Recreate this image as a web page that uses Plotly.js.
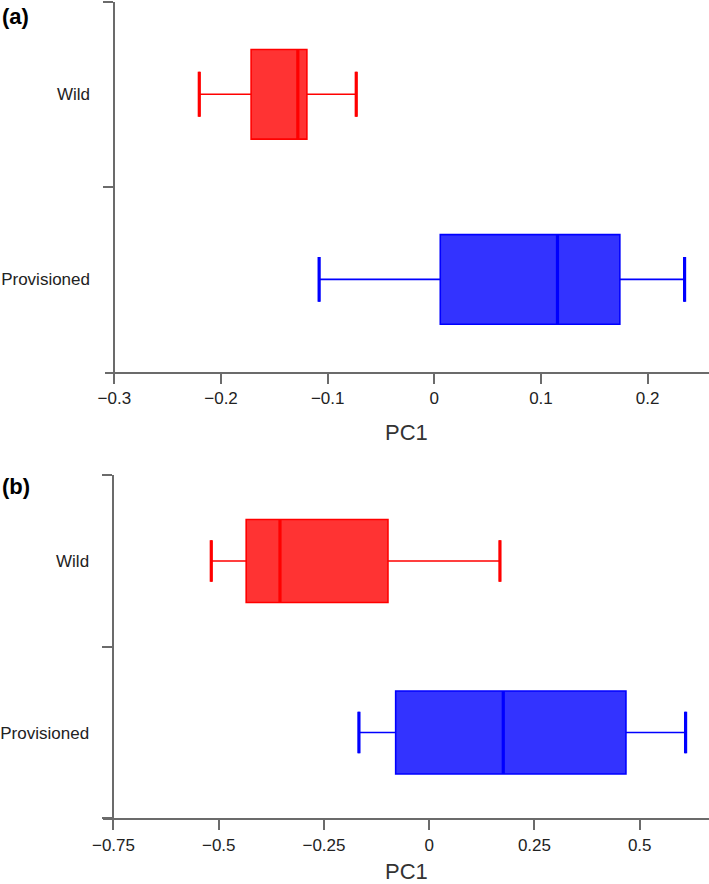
<!DOCTYPE html>
<html>
<head>
<meta charset="utf-8">
<script src="https://cdn.plot.ly/plotly-3.0.1.min.js"></script>
<style>html,body{margin:0;padding:0;background:#fff;}#chart{width:709px;height:884px;}</style>
</head>
<body>
<div id="chart"></div>
<script>
// ---- data ----
const categories = ['Wild', 'Provisioned'];
const colorsLine = ['#ff0000', '#0000ff'];
const colorsFill = ['rgba(255,0,0,0.8)', 'rgba(0,0,255,0.8)'];

// Panel (a)
const aLower  = [-0.2204, -0.108];
const aQ1     = [-0.1718, 0.0056];
const aMedian = [-0.128, 0.1155];
const aQ3     = [-0.1195, 0.174];
const aUpper  = [-0.0732, 0.2347];
const aTickVals = [-0.3, -0.2, -0.1, 0, 0.1, 0.2];
const aTickText = ['\u22120.3', '\u22120.2', '\u22120.1', '0', '0.1', '0.2'];

// Panel (b)
const bLower  = [-0.5177, -0.167];
const bQ1     = [-0.4348, -0.0797];
const bMedian = [-0.3545, 0.1759];
const bQ3     = [-0.098, 0.4673];
const bUpper  = [0.168, 0.609];
const bTickVals = [-0.75, -0.5, -0.25, 0, 0.25, 0.5];
const bTickText = ['\u22120.75', '\u22120.5', '\u22120.25', '0', '0.25', '0.5'];

const xTitle = 'PC1';
const panelLabels = ['(a)', '(b)'];

// ---- build ----
const FONT = 'Arial, "Liberation Sans", Helvetica, sans-serif';
const capWidth = 0.242;

function panelTraces(L, Q1, M, Q3, U, xa, ya) {
  const traces = [];
  categories.forEach((cat, i) => {
    const base = {type: 'box', orientation: 'h', y: [cat], boxpoints: false,
      xaxis: xa, yaxis: ya, showlegend: false, hoverinfo: 'skip'};
    traces.push(Object.assign({}, base, {
      q1: [Q1[i]], median: [M[i]], q3: [Q3[i]], lowerfence: [L[i]], upperfence: [U[i]],
      fillcolor: colorsFill[i], line: {color: colorsLine[i], width: 1.6}, whiskerwidth: 0.5
    }));
    // thicker median
    traces.push(Object.assign({}, base, {
      q1: [M[i]], median: [M[i]], q3: [M[i]], lowerfence: [M[i]], upperfence: [M[i]],
      fillcolor: 'rgba(0,0,0,0)', line: {color: colorsLine[i], width: 3.2}, whiskerwidth: 0
    }));
    // thicker whisker caps
    [L[i], U[i]].forEach(v => {
      traces.push(Object.assign({}, base, {
        q1: [v], median: [v], q3: [v], lowerfence: [v], upperfence: [v], width: capWidth,
        fillcolor: 'rgba(0,0,0,0)', line: {color: colorsLine[i], width: 3.2}, whiskerwidth: 0
      }));
    });
  });
  return traces;
}

const data = [].concat(
  panelTraces(aLower, aQ1, aMedian, aQ3, aUpper, 'x', 'y'),
  panelTraces(bLower, bQ1, bMedian, bQ3, bUpper, 'x2', 'y2')
);

const axisColor = '#6b6b6b';
function xAxis(domain, range, tv, tt, anchor) {
  return {domain: domain, range: range, anchor: anchor, tickmode: 'array', tickvals: tv, ticktext: tt,
    showline: true, linecolor: axisColor, linewidth: 2, ticks: 'outside', ticklen: 10,
    tickwidth: 2, tickcolor: axisColor, showgrid: false, zeroline: false,
    tickfont: {family: FONT, size: 17, color: '#222'}, automargin: false, fixedrange: true};
}
function yAxis(domain, pos) {
  return {domain: domain, anchor: 'free', position: pos, type: 'category',
    categoryorder: 'array', categoryarray: categories.slice().reverse(), range: [-0.5, 1.5],
    showline: true, linecolor: axisColor, linewidth: 2, ticks: 'outside', ticklen: 10,
    tickwidth: 2, tickcolor: axisColor, tickson: 'boundaries', ticklabelstandoff: 20,
    showgrid: false, zeroline: false, tickfont: {family: FONT, size: 17, color: '#222'},
    automargin: false, fixedrange: true};
}

const layout = {
  width: 709, height: 884, margin: {l: 0, r: 0, t: 0, b: 0},
  paper_bgcolor: '#fff', plot_bgcolor: '#fff', boxmode: 'overlay', boxgap: 0.516, boxgroupgap: 0,
  showlegend: false,
  xaxis: xAxis([0.14767, 1], [-0.3091, 0.2576], aTickVals, aTickText, 'y'),
  yaxis: yAxis([0.57919, 0.99808], 0.16135),
  xaxis2: xAxis([0.1457, 1], [-0.7742, 0.6646], bTickVals, bTickText, 'y2'),
  yaxis2: yAxis([0.07432, 0.46233], 0.16008),
  annotations: [
    {text: '<b>' + panelLabels[0] + '</b>', xref: 'paper', yref: 'paper', x: 0.0, y: 0.9808,
     xanchor: 'left', yanchor: 'middle', showarrow: false, font: {family: FONT, size: 22, color: '#000'}},
    {text: '<b>' + panelLabels[1] + '</b>', xref: 'paper', yref: 'paper', x: 0.0, y: 0.4502,
     xanchor: 'left', yanchor: 'middle', showarrow: false, font: {family: FONT, size: 22, color: '#000'}},
    {text: xTitle, xref: 'paper', yref: 'paper', x: 0.574, y: 0.5102,
     xanchor: 'center', yanchor: 'middle', showarrow: false, font: {family: FONT, size: 22, color: '#333'}},
    {text: xTitle, xref: 'paper', yref: 'paper', x: 0.574, y: 0.0147,
     xanchor: 'center', yanchor: 'middle', showarrow: false, font: {family: FONT, size: 22, color: '#333'}}
  ]
};

Plotly.newPlot('chart', data, layout, {displayModeBar: false, staticPlot: true});
</script>
</body>
</html>
